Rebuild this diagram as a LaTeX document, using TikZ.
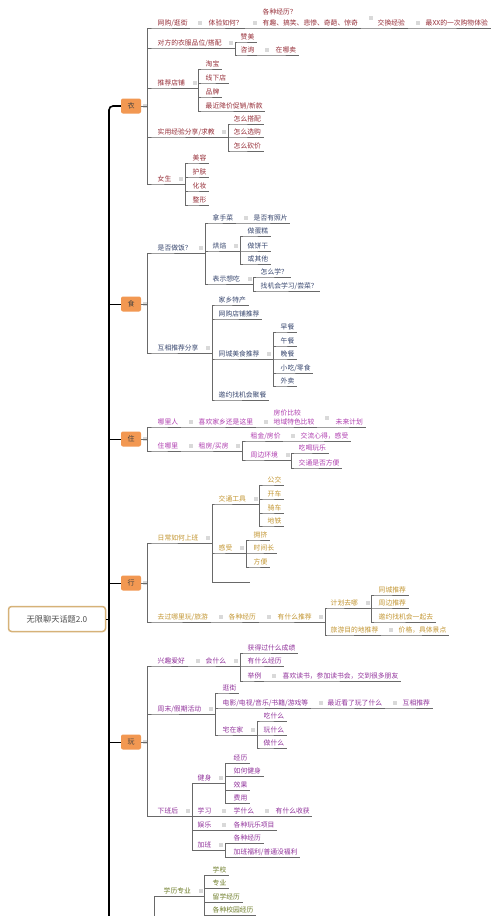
\documentclass[tikz,border=0pt]{standalone}
\usepackage{fontspec}
\setmainfont{Noto Sans CJK SC}

\definecolor{yicol}{RGB}{150,45,55}
\definecolor{shicol}{RGB}{55,70,110}
\definecolor{zhucol}{RGB}{175,60,175}
\definecolor{xingcol}{RGB}{195,150,50}
\definecolor{wancol}{RGB}{145,50,155}
\definecolor{xuecol}{RGB}{110,125,40}
\definecolor{catfill}{RGB}{242,152,82}
\definecolor{rootline}{RGB}{214,178,120}
\definecolor{linecol}{RGB}{105,105,105}

\tikzset{
  topic/.style={anchor=south west, inner xsep=2.5pt, inner ysep=1.3pt,
    font=\fontsize{6.8}{8}\selectfont},
  yi/.style={topic, text=yicol},
  shi/.style={topic, text=shicol},
  zhu/.style={topic, text=zhucol},
  xing/.style={topic, text=xingcol},
  wan/.style={topic, text=wancol},
  xue/.style={topic, text=xuecol},
  cat/.style={fill=catfill, rounded corners=2pt, minimum width=20pt,
    minimum height=15pt, inner sep=0pt, text=black!75,
    font=\fontsize{7}{8}\selectfont},
  rootbox/.style={draw=rootline, fill=white, line width=1.5pt, rounded corners=3pt,
    minimum width=97pt, minimum height=25pt, text=black!70,
    font=\fontsize{8.2}{9}\selectfont},
  conn/.style={draw=linecol, line width=0.5pt},
  fold/.style={fill=black!15},
  trunk/.style={line width=1.6pt, black}
}

% parent -> list of children, drawn as an elbow under the texts
\newcommand\branchto[2]{%
  \fill[fold] ([xshift=5pt,yshift=-2pt]#1.east) rectangle ++(4pt,4pt);
  \foreach \kid in {#2}
    \draw[conn] (#1.south east) -- ++(11,0) |- (\kid.south west) -- (\kid.south east);}
% parent -> next topic on the same row
\newcommand\nextto[2]{%
  \fill[fold] ([xshift=8pt,yshift=-2pt]#1.east) rectangle ++(4pt,4pt);
  \draw[conn] (#1.south east) -- (#2.south west) -- (#2.south east);}

\begin{document}
\begin{tikzpicture}[x=1pt,y=-1pt]
\useasboundingbox (0,0) rectangle (500,916);
\fill[white] (0,0) rectangle (500,916);
\clip (0,0) rectangle (500,916);

% root and trunk
\node[rootbox] (root) at (57,619) {无限聊天话题2.0};
\coordinate (trunkend) at (109,940);
\node[cat] (yi) at (131,106) {衣};
\node[cat] (shi) at (131,304) {食};
\node[cat] (zhu) at (131,439) {住};
\node[cat] (xing) at (131,583) {行};
\node[cat] (wan) at (131,742) {玩};
\coordinate (xue) at (148,960);

\draw[trunk, rounded corners=4pt] (yi.west) -| (trunkend);
\foreach \c in {shi,zhu,xing,wan}
  \draw[line width=0.8pt] (\c.west) -- (\c.west -| trunkend);
\draw[line width=0.8pt] (root.east) -- (root.east -| trunkend);

% 衣
\node[yi] (yi1) at (155,28) {网购/逛街};
\node[yi] (yi11) at (206,28) {体验如何？};
\node[yi, align=left, font=\fontsize{6.8}{11}\selectfont] (yi12) at (260,28) {各种经历？\\有趣、搞笑、悲惨、奇葩、惊奇};
\node[yi] (yi13) at (375,28) {交换经验};
\node[yi] (yi14) at (423,28) {最XX的一次购物体验};
\node[yi] (yi2) at (155,48) {对方的衣服品位/搭配};
\node[yi] (yi21) at (238,42) {赞美};
\node[yi] (yi22) at (238,55) {咨询};
\node[yi] (yi221) at (273,55) {在哪卖};
\node[yi] (yi3) at (155,88) {推荐店铺};
\node[yi] (yi31) at (203,69) {淘宝};
\node[yi] (yi32) at (203,83) {线下店};
\node[yi] (yi33) at (203,97) {品牌};
\node[yi] (yi34) at (203,111) {最近降价促销/新款};
\node[yi] (yi4) at (155,137) {实用经验分享/求教};
\node[yi] (yi41) at (231,124) {怎么搭配};
\node[yi] (yi42) at (231,137) {怎么选购};
\node[yi] (yi43) at (231,151) {怎么砍价};
\node[yi] (yi5) at (155,184) {女生};
\node[yi] (yi51) at (190,163) {美容};
\node[yi] (yi52) at (190,177) {护肤};
\node[yi] (yi53) at (190,191) {化妆};
\node[yi] (yi54) at (190,205) {整形};

\fill[fold] ([xshift=2pt,yshift=-2pt]yi.east) rectangle ++(4pt,4pt);
\foreach \c in {yi1,yi2,yi3,yi4,yi5}
  \draw[conn] (yi.east) -- ++(6,0) |- (\c.south west) -- (\c.south east);
\nextto{yi1}{yi11}
\nextto{yi11}{yi12}
\nextto{yi12}{yi13}
\nextto{yi13}{yi14}
\branchto{yi2}{yi21,yi22}
\nextto{yi22}{yi221}
\branchto{yi3}{yi31,yi32,yi33,yi34}
\branchto{yi4}{yi41,yi42,yi43}
\branchto{yi5}{yi51,yi52,yi53,yi54}

% 食
\node[shi] (shi1) at (155,253) {是否做饭？};
\node[shi] (shi11) at (210,223) {拿手菜};
\node[shi] (shi111) at (251,223) {是否有照片};
\node[shi] (shi12) at (210,251) {烘焙};
\node[shi] (shi121) at (245,236) {做蛋糕};
\node[shi] (shi122) at (245,251) {做饼干};
\node[shi] (shi123) at (245,264) {或其他};
\node[shi] (shi13) at (210,284) {表示想吃};
\node[shi] (shi131) at (258,277) {怎么学？};
\node[shi] (shi132) at (258,291) {找机会学习/尝菜？};
\node[shi] (shi2) at (155,353) {互相推荐分享};
\node[shi] (shi21) at (216,305) {家乡特产};
\node[shi] (shi22) at (216,319) {网购店铺推荐};
\node[shi] (shi23) at (216,359) {同城美食推荐};
\node[shi] (shi231) at (278,332) {早餐};
\node[shi] (shi232) at (278,346) {午餐};
\node[shi] (shi233) at (278,359) {晚餐};
\node[shi] (shi234) at (278,373) {小吃/零食};
\node[shi] (shi235) at (278,386) {外卖};
\node[shi] (shi24) at (216,400) {邀约找机会聚餐};

\fill[fold] ([xshift=2pt,yshift=-2pt]shi.east) rectangle ++(4pt,4pt);
\foreach \c in {shi1,shi2}
  \draw[conn] (shi.east) -- ++(6,0) |- (\c.south west) -- (\c.south east);
\branchto{shi1}{shi11,shi12,shi13}
\nextto{shi11}{shi111}
\branchto{shi12}{shi121,shi122,shi123}
\branchto{shi13}{shi131,shi132}
\branchto{shi2}{shi21,shi22,shi23,shi24}
\branchto{shi23}{shi231,shi232,shi233,shi234,shi235}

% 住
\node[zhu] (zhu1) at (155,427) {哪里人};
\node[zhu] (zhu11) at (196,427) {喜欢家乡还是这里};
\node[zhu, align=left, font=\fontsize{6.8}{9.5}\selectfont] (zhu12) at (271,427) {房价比较\\地域特色比较};
\node[zhu] (zhu13) at (333,427) {未来计划};
\node[zhu] (zhu2) at (155,451) {住哪里};
\node[zhu] (zhu21) at (196,451) {租房/买房};
\node[zhu] (zhu211) at (248,441) {租金/房价};
\node[zhu] (zhu2111) at (298,441) {交流心得，感受};
\node[zhu] (zhu212) at (248,460) {周边环境};
\node[zhu] (zhu2121) at (296,453) {吃喝玩乐};
\node[zhu] (zhu2122) at (296,468) {交通是否方便};

\fill[fold] ([xshift=2pt,yshift=-2pt]zhu.east) rectangle ++(4pt,4pt);
\foreach \c in {zhu1,zhu2}
  \draw[conn] (zhu.east) -- ++(6,0) |- (\c.south west) -- (\c.south east);
\nextto{zhu1}{zhu11}
\nextto{zhu11}{zhu12}
\nextto{zhu12}{zhu13}
\nextto{zhu2}{zhu21}
\branchto{zhu21}{zhu211,zhu212}
\nextto{zhu211}{zhu2111}
\branchto{zhu212}{zhu2121,zhu2122}

% 行
\node[xing] (xing1) at (155,543) {日常如何上班};
\node[xing] (xing11) at (216,504) {交通工具};
\node[xing] (xing111) at (265,485) {公交};
\node[xing] (xing112) at (265,499) {开车};
\node[xing] (xing113) at (265,513) {骑车};
\node[xing] (xing114) at (265,526) {地铁};
\node[xing] (xing12) at (216,553) {感受};
\node[xing] (xing121) at (251,540) {拥挤};
\node[xing] (xing122) at (251,553) {时间长};
\node[xing] (xing123) at (251,567) {方便};
\coordinate (xing13) at (250,582);
\node[xing] (xing2) at (155,622) {去过哪里玩/旅游};
\node[xing] (xing21) at (226,622) {各种经历};
\node[xing] (xing22) at (275,622) {有什么推荐};
\node[xing] (xing221) at (328,608) {计划去哪};
\node[xing] (xing2211) at (376,595) {同城推荐};
\node[xing] (xing2212) at (376,608) {周边推荐};
\node[xing] (xing2213) at (376,622) {邀约找机会一起去};
\node[xing] (xing222) at (328,635) {旅游目的地推荐};
\node[xing] (xing2221) at (396,635) {价格，具体景点};

\fill[fold] ([xshift=2pt,yshift=-2pt]xing.east) rectangle ++(4pt,4pt);
\foreach \c in {xing1,xing2}
  \draw[conn] (xing.east) -- ++(6,0) |- (\c.south west) -- (\c.south east);
\branchto{xing1}{xing11,xing12}
\draw[conn] (xing1.south east) -- ++(11,0) |- (xing13);
\branchto{xing11}{xing111,xing112,xing113,xing114}
\branchto{xing12}{xing121,xing122,xing123}
\nextto{xing2}{xing21}
\nextto{xing21}{xing22}
\branchto{xing22}{xing221,xing222}
\branchto{xing221}{xing2211,xing2212,xing2213}
\nextto{xing222}{xing2221}

% 玩
\node[wan] (wan1) at (155,666) {兴趣爱好};
\node[wan] (wan11) at (203,666) {会什么};
\node[wan] (wan111) at (245,653) {获得过什么成绩};
\node[wan] (wan112) at (245,666) {有什么经历};
\node[wan] (wan113) at (245,681) {举例};
\node[wan] (wan1131) at (280,681) {喜欢读书，参加读书会，交到很多朋友};
\node[wan] (wan2) at (155,714) {周末/假期活动};
\node[wan] (wan21) at (220,693) {逛街};
\node[wan] (wan22) at (220,708) {电影/电视/音乐/书籍/游戏等};
\node[wan] (wan221) at (325,708) {最近看了玩了什么};
\node[wan] (wan222) at (400,708) {互相推荐};
\node[wan] (wan23) at (220,735) {宅在家};
\node[wan] (wan231) at (261,721) {吃什么};
\node[wan] (wan232) at (261,735) {玩什么};
\node[wan] (wan233) at (261,748) {做什么};
\node[wan] (wan3) at (155,816) {下班后};
\node[wan] (wan31) at (195,783) {健身};
\node[wan] (wan311) at (231,763) {经历};
\node[wan] (wan312) at (231,776) {如何健身};
\node[wan] (wan313) at (231,790) {效果};
\node[wan] (wan314) at (231,803) {费用};
\node[wan] (wan32) at (195,816) {学习};
\node[wan] (wan321) at (231,816) {学什么};
\node[wan] (wan322) at (273,816) {有什么收获};
\node[wan] (wan33) at (195,830) {娱乐};
\node[wan] (wan331) at (231,830) {各种玩乐项目};
\node[wan] (wan34) at (195,850) {加班};
\node[wan] (wan341) at (231,843) {各种经历};
\node[wan] (wan342) at (231,857) {加班福利/普通没福利};

\fill[fold] ([xshift=2pt,yshift=-2pt]wan.east) rectangle ++(4pt,4pt);
\foreach \c in {wan1,wan2,wan3}
  \draw[conn] (wan.east) -- ++(6,0) |- (\c.south west) -- (\c.south east);
\nextto{wan1}{wan11}
\branchto{wan11}{wan111,wan112,wan113}
\nextto{wan113}{wan1131}
\branchto{wan2}{wan21,wan22,wan23}
\nextto{wan22}{wan221}
\nextto{wan221}{wan222}
\branchto{wan23}{wan231,wan232,wan233}
\branchto{wan3}{wan31,wan32,wan33,wan34}
\branchto{wan31}{wan311,wan312,wan313,wan314}
\nextto{wan32}{wan321}
\nextto{wan321}{wan322}
\nextto{wan33}{wan331}
\branchto{wan34}{wan341,wan342}

% 学 (box below the page edge)
\node[xue] (xue1) at (161,896) {学历专业};
\node[xue] (xue11) at (210,875) {学校};
\node[xue] (xue12) at (210,888) {专业};
\node[xue] (xue13) at (210,902) {留学经历};
\node[xue] (xue14) at (210,915) {各种校园经历};
\draw[conn] (xue) -- ++(6,0) |- (xue1.south west) -- (xue1.south east);
\branchto{xue1}{xue11,xue12,xue13,xue14}
\end{tikzpicture}
\end{document}
